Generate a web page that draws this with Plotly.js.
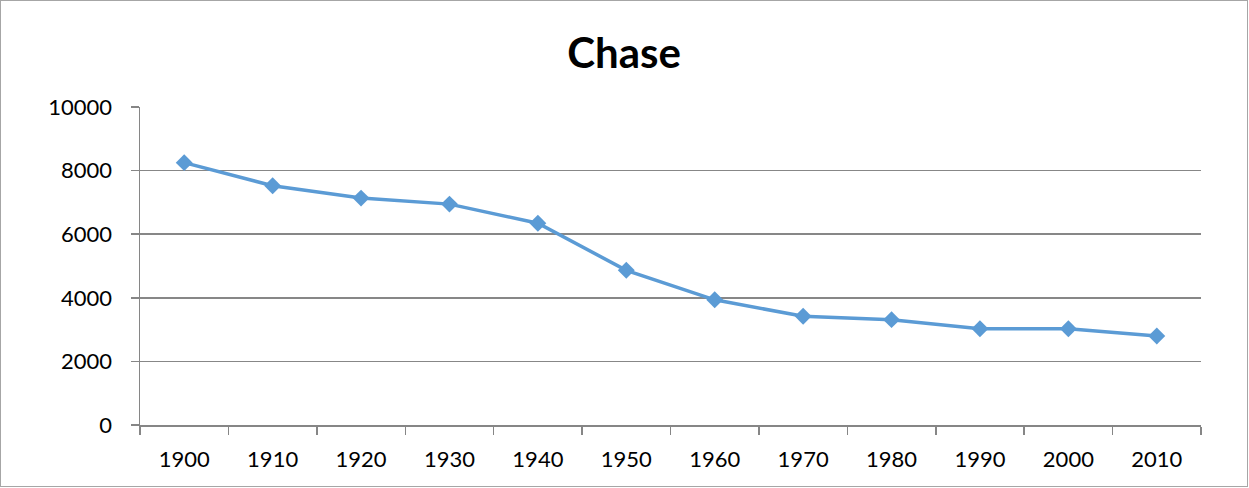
<!DOCTYPE html>
<html>
<head>
<meta charset="utf-8">
<script src="https://cdn.plot.ly/plotly-3.0.1.min.js"></script>
<style>
html,body{margin:0;padding:0;background:#fff;}
#chart{width:1248px;height:487px;box-sizing:border-box;border:1px solid #a6a6a6;border-right-width:2px;border-bottom-width:2px;}
</style>
</head>
<body>
<div id="chart"></div>
<script>
const years = ["1900","1910","1920","1930","1940","1950","1960","1970","1980","1990","2000","2010"];
const population = [8250, 7525, 7136, 6946, 6345, 4864, 3937, 3418, 3313, 3028, 3028, 2797];
const yTicks = [0, 2000, 4000, 6000, 8000, 10000];
const chartTitle = "Chase";

const trace = {
  x: years,
  y: population,
  type: "scatter",
  mode: "lines+markers",
  line: {color: "#5B9BD5", width: 3.5},
  marker: {symbol: "diamond", size: 13, color: "#5B9BD5"},
  hoverinfo: "x+y"
};

const layout = {
  width: 1246,
  height: 485,
  margin: {l: 139, r: 46, t: 106, b: 61, pad: 0},
  paper_bgcolor: "#ffffff",
  plot_bgcolor: "#ffffff",
  showlegend: false,
  font: {family: "Lato, 'Open Sans', sans-serif", color: "#000000", size: 22},
  title: {
    text: "<b>" + chartTitle + "</b>",
    font: {family: "Lato, sans-serif", size: 42, color: "#000000"},
    x: 0.5, xanchor: "center",
    y: 0.893, yanchor: "middle"
  },
  xaxis: {
    type: "category",
    range: [-0.5, 11.5],
    showgrid: false,
    showline: true,
    linecolor: "#868686",
    linewidth: 1.5,
    ticks: "outside",
    tickson: "boundaries",
    ticklen: 8,
    tickcolor: "#868686",
    tickwidth: 1.5,
    ticklabelstandoff: 14,
    tickfont: {size: 22, family: "Lato, sans-serif", color: "#000"},
    zeroline: false,
    fixedrange: true
  },
  yaxis: {
    range: [0, 10000],
    tickvals: yTicks,
    ticktext: yTicks.map(String),
    showgrid: true,
    gridcolor: "#878787",
    gridwidth: 1.5,
    showline: true,
    linecolor: "#868686",
    linewidth: 1.5,
    ticks: "outside",
    ticklen: 8,
    tickcolor: "#868686",
    tickwidth: 1.5,
    ticklabelstandoff: 14,
    tickfont: {size: 22, family: "Lato, sans-serif", color: "#000"},
    zeroline: false,
    fixedrange: true
  }
};

Plotly.newPlot("chart", [trace], layout, {displayModeBar: false, staticPlot: true});
</script>
</body>
</html>
